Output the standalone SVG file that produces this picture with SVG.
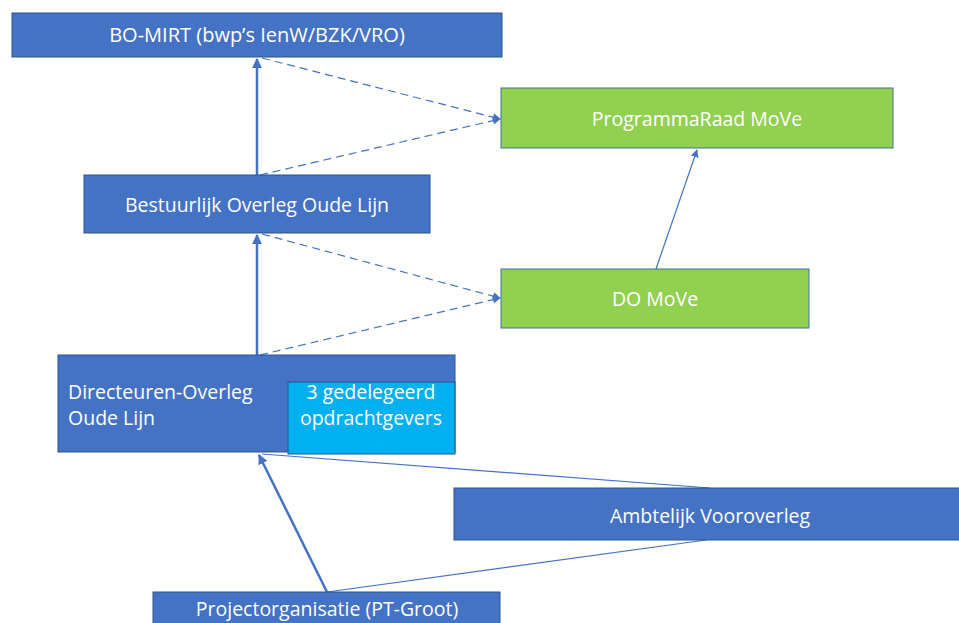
<svg xmlns="http://www.w3.org/2000/svg" width="959" height="623" viewBox="0 0 959 623">
<defs>
<style>
.blue{fill:#4472C4;stroke:#2F528F;stroke-width:1}
.green{fill:#92D050;stroke:#41719C;stroke-width:1}
.cyan{fill:#00B0F0;stroke:#2F528F;stroke-width:1}
text{font-family:"Open Sans","Liberation Sans",sans-serif;font-size:19.5px;fill:#fff}
.c{text-anchor:middle}
.thick{stroke:#4472C4;stroke-width:2.5;fill:none}
.thin{stroke:#4472C4;stroke-width:1.2;fill:none}
.dash{stroke:#4472C4;stroke-width:1.2;stroke-dasharray:8,5;fill:none}
</style>
<marker id="ah" viewBox="0 0 10 10" refX="9" refY="5" markerWidth="8" markerHeight="8" markerUnits="userSpaceOnUse" orient="auto">
<path d="M0,0 L10,5 L0,10 z" fill="#4472C4"/>
</marker>
<marker id="ahs" viewBox="0 0 10 10" refX="9" refY="5" markerWidth="4" markerHeight="4" orient="auto">
<path d="M0,0 L10,5 L0,10 z" fill="#4472C4"/>
</marker>
</defs>
<g id="connectors">
<line class="thick" x1="257" y1="175" x2="257" y2="59" marker-end="url(#ahs)"/>
<line class="dash" x1="262" y1="58" x2="500" y2="119" marker-end="url(#ah)"/>
<line class="dash" x1="260" y1="175" x2="500" y2="119" marker-end="url(#ah)"/>
<line class="thick" x1="257" y1="355" x2="257" y2="235" marker-end="url(#ahs)"/>
<line class="dash" x1="262" y1="234" x2="500" y2="298" marker-end="url(#ah)"/>
<line class="dash" x1="260" y1="355" x2="500" y2="298" marker-end="url(#ah)"/>
<line class="thin" x1="656" y1="269" x2="697" y2="150" marker-end="url(#ah)"/>
<line class="thick" x1="327" y1="592" x2="259" y2="455" marker-end="url(#ahs)"/>
<line class="thin" x1="262" y1="454" x2="710" y2="488"/>
<line class="thin" x1="327" y1="592" x2="706" y2="540"/>
</g>
<g id="bo-mirt">
<rect class="blue" x="12" y="13" width="490" height="44"/>
<text class="c" x="257" y="42" style="font-size:20px">BO-MIRT (bwp’s IenW/BZK/VRO)</text>
</g>
<g id="programmaraad">
<rect class="green" x="501" y="88" width="392" height="60"/>
<text class="c" x="697" y="126">ProgrammaRaad MoVe</text>
</g>
<g id="bestuurlijk">
<rect class="blue" x="84" y="175" width="346" height="58"/>
<text class="c" x="257" y="212">Bestuurlijk Overleg Oude Lijn</text>
</g>
<g id="do-move">
<rect class="green" x="501" y="269" width="308" height="59"/>
<text class="c" x="655" y="306">DO MoVe</text>
</g>
<g id="directeuren">
<rect class="blue" x="58" y="355" width="397" height="97"/>
<text x="68" y="399">Directeuren-Overleg</text>
<text x="68" y="425">Oude Lijn</text>
</g>
<g id="gedelegeerd">
<rect class="cyan" x="288" y="382" width="167" height="72"/>
<text class="c" x="371" y="399">3 gedelegeerd</text>
<text class="c" x="371" y="425">opdrachtgevers</text>
</g>
<g id="ambtelijk">
<rect class="blue" x="454" y="488" width="515" height="52"/>
<text class="c" x="710" y="523">Ambtelijk Vooroverleg</text>
</g>
<g id="projectorganisatie">
<rect class="blue" x="153" y="592" width="347" height="36"/>
<text class="c" x="327" y="616">Projectorganisatie (PT-Groot)</text>
</g>
</svg>
